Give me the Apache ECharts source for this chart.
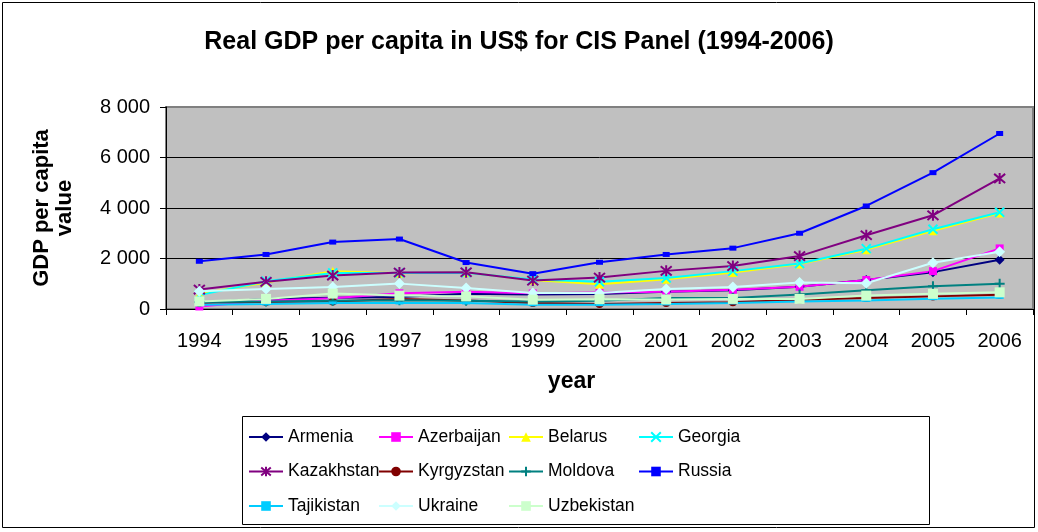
<!DOCTYPE html>
<html>
<head>
<meta charset="UTF-8">
<title>Real GDP per capita in US$ for CIS Panel</title>
<script src="https://cdn.jsdelivr.net/npm/echarts@6/dist/echarts.min.js"></script>
<style>
  html, body { margin: 0; padding: 0; background: #fff; }
  #main { width: 1038px; height: 532px; }
</style>
</head>
<body>
<div id="main"></div>
<script type="text/javascript">
// years on the x axis
var years = ['1994', '1995', '1996', '1997', '1998', '1999', '2000', '2001', '2002', '2003', '2004', '2005', '2006'];

// GDP per capita, US$
var armenia    = [250, 400, 450, 480, 600, 570, 590, 680, 740, 880, 1150, 1460, 1950];
var azerbaijan = [100, 330, 430, 620, 680, 620, 650, 680, 760, 880, 1150, 1500, 2400];
var belarus    = [600, 1050, 1500, 1420, 1450, 1150, 980, 1180, 1450, 1780, 2350, 3100, 3800];
var georgia    = [550, 1100, 1430, 1430, 1440, 1170, 1080, 1230, 1500, 1800, 2390, 3160, 3830];
var kazakhstan = [770, 1075, 1325, 1445, 1455, 1125, 1245, 1510, 1700, 2095, 2920, 3710, 5170];
var kyrgyzstan = [250, 280, 300, 400, 340, 240, 200, 240, 270, 370, 440, 500, 560];
var moldova    = [280, 300, 330, 350, 330, 300, 330, 440, 440, 570, 740, 900, 1000];
var russia     = [1890, 2160, 2650, 2770, 1840, 1400, 1850, 2160, 2410, 3000, 4080, 5400, 6950];
var tajikistan = [170, 200, 240, 240, 240, 170, 170, 200, 240, 300, 340, 410, 460];
var ukraine    = [700, 790, 875, 1005, 835, 635, 635, 795, 875, 1050, 1020, 1830, 2270];
var uzbekistan = [300, 400, 610, 530, 500, 370, 390, 380, 400, 400, 530, 600, 660];

// y axis ticks
var yTicks = [0, 2000, 4000, 6000, 8000];

var FONT = 'Liberation Sans, Arial, sans-serif';

var xMark = 'path://M0,0L10,10M10,0L0,10';
var starMark = 'path://M0,0L10,10M10,0L0,10M5,-1L5,11';
var plusMark = 'path://M5,0L5,10M0,5L10,5';

function mk(name, data, color, symbol, size, strokeOnly) {
	return {
		name: name,
		type: 'line',
		data: data,
		symbol: symbol,
		symbolSize: size,
		showAllSymbol: true,
		lineStyle: { color: color, width: 2 },
		itemStyle: {
			color: strokeOnly ? 'rgba(0,0,0,0)' : color,
			borderColor: color,
			borderWidth: strokeOnly ? 2 : 0
		}
	};
}

var chart = echarts.init(document.getElementById('main'));

var legendText = { fontFamily: FONT, fontSize: 17.5, color: '#000', lineHeight: 20 };
function col(left, names) {
	return {
		orient: 'vertical',
		left: left,
		top: 427,
		padding: 0,
		itemWidth: 34,
		itemHeight: 12,
		itemGap: 14.5,
		textStyle: legendText,
		data: names
	};
}

chart.setOption({
	animation: false,
	title: {
		text: 'Real GDP per capita in US$ for CIS Panel (1994-2006)',
		left: 'center',
		top: 25,
		padding: [5, 5, 5, 25],
		textStyle: { fontFamily: FONT, fontSize: 25, fontWeight: 'bold', color: '#000' }
	},
	graphic: [
		{ type: 'rect', shape: { x: 2.5, y: 2.5, width: 1032, height: 525 },
		  style: { fill: 'none', stroke: '#000', lineWidth: 1 }, silent: true },
		{ type: 'rect', shape: { x: 242.5, y: 416.5, width: 687, height: 108 },
		  style: { fill: 'none', stroke: '#000', lineWidth: 1 }, silent: true }
	],
	legend: [
		col(248, ['Armenia', 'Kazakhstan', 'Tajikistan']),
		col(378, ['Azerbaijan', 'Kyrgyzstan', 'Ukraine']),
		col(508, ['Belarus', 'Moldova', 'Uzbekistan']),
		col(638, ['Georgia', 'Russia'])
	],
	grid: {
		left: 166,
		right: 5,
		top: 107,
		bottom: 223,
		show: true,
		backgroundColor: '#C0C0C0',
		borderColor: '#808080',
		borderWidth: 2
	},
	xAxis: {
		type: 'category',
		data: years,
		boundaryGap: true,
		name: 'year',
		nameLocation: 'middle',
		nameGap: 61,
		nameTextStyle: { fontFamily: FONT, fontSize: 23, fontWeight: 'bold', color: '#000', padding: [0, 56, 0, 0] },
		axisLine: { lineStyle: { color: '#000', width: 1 } },
		axisTick: { show: true, length: 6, alignWithLabel: false, lineStyle: { color: '#000' } },
		axisLabel: { fontFamily: FONT, fontSize: 20, color: '#000', margin: 22, interval: 0 },
		splitLine: { show: false }
	},
	yAxis: {
		type: 'value',
		min: yTicks[0],
		max: yTicks[yTicks.length - 1],
		interval: 2000,
		name: 'GDP per capita\nvalue',
		nameLocation: 'middle',
		nameGap: 90,
		nameRotate: 90,
		nameTextStyle: { fontFamily: FONT, fontSize: 22, fontWeight: 'bold', color: '#000', lineHeight: 23, align: 'center' },
		axisLine: { show: true, lineStyle: { color: '#000', width: 1 } },
		axisTick: { show: true, length: 6, lineStyle: { color: '#000' } },
		axisLabel: {
			fontFamily: FONT, fontSize: 20, color: '#000', margin: 16,
			formatter: function (v) {
				return String(v).replace(/\B(?=(\d{3})+(?!\d))/g, ' ');
			}
		},
		splitLine: { show: true, showMaxLine: false, lineStyle: { color: '#000', width: 1 } }
	},
	series: [
		mk('Armenia', armenia, '#000080', 'diamond', 10),
		mk('Azerbaijan', azerbaijan, '#FF00FF', 'rect', 8),
		mk('Belarus', belarus, '#FFFF00', 'triangle', 9),
		mk('Georgia', georgia, '#00FFFF', xMark, 9, true),
		mk('Kazakhstan', kazakhstan, '#800080', starMark, 11, true),
		mk('Kyrgyzstan', kyrgyzstan, '#800000', 'circle', 8),
		mk('Moldova', moldova, '#008080', plusMark, 10, true),
		mk('Russia', russia, '#0000FF', 'rect', [7, 5]),
		mk('Tajikistan', tajikistan, '#00CCFF', 'rect', [8, 3]),
		mk('Ukraine', ukraine, '#CCFFFF', 'diamond', 11),
		mk('Uzbekistan', uzbekistan, '#CCFFCC', 'rect', 10)
	]
});
</script>
</body>
</html>
